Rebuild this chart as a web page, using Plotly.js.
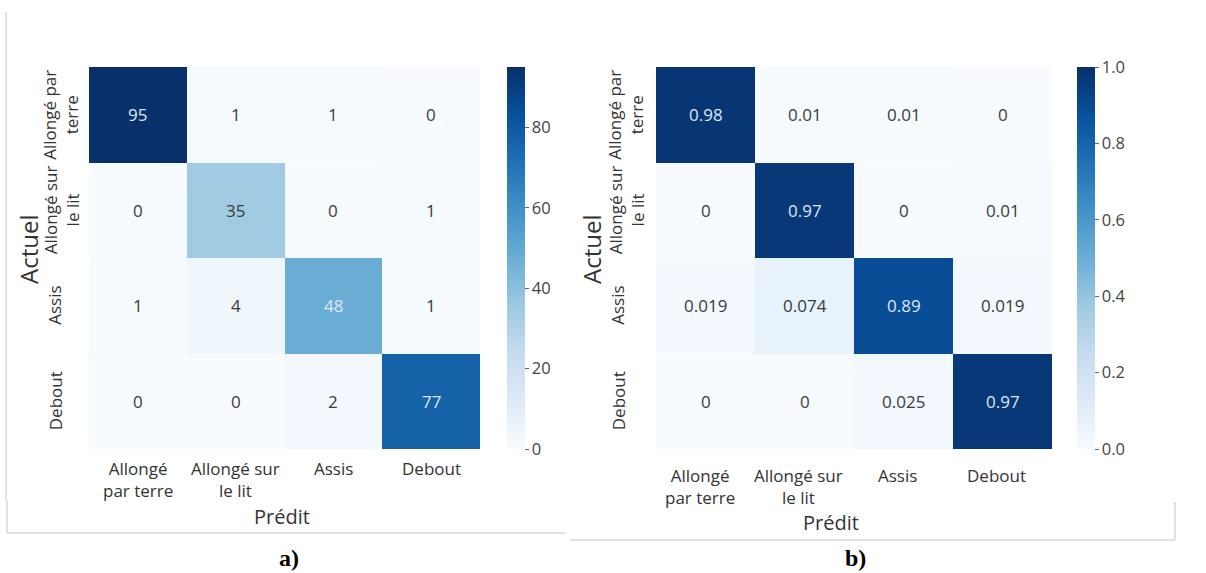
<!DOCTYPE html>
<html>
<head>
<meta charset="utf-8">
<script src="https://cdn.plot.ly/plotly-3.0.1.min.js"></script>
<style>html,body{margin:0;padding:0;background:#fff;}#chart{width:1206px;height:573px;}</style>
</head>
<body>
<div id="chart"></div>
<script>
// ---- data ----
const classIdx = [0, 1, 2, 3];
const xTickLabels = ['Allongé<br>par terre', 'Allongé sur<br>le lit', 'Assis', 'Debout'];
const yTickLabels = ['Allongé par<br>terre', 'Allongé sur<br>le lit', 'Assis', 'Debout'];
const countsA = [
  [95, 1, 1, 0],
  [0, 35, 0, 1],
  [1, 4, 48, 1],
  [0, 0, 2, 77]
];
const ratesB = [
  [0.98, 0.01, 0.01, 0],
  [0, 0.97, 0, 0.01],
  [0.019, 0.074, 0.89, 0.019],
  [0, 0, 0.025, 0.97]
];
const cbTicksA = [0, 20, 40, 60, 80];
const cbTicksB = [0, 0.2, 0.4, 0.6, 0.8, 1.0];
const cbTickTextB = ['0.0', '0.2', '0.4', '0.6', '0.8', '1.0'];
const xTitle = 'Prédit';
const yTitle = 'Actuel';
const panelLabels = ['a)', 'b)'];

// ---- helpers ----
const W = 1206, H = 573;
const px = x => x / W;
const py = y => 1 - y / H;
const FONT = '"Open Sans", "Noto Sans", sans-serif';

const blues = [
  [0.0, '#f7fbff'], [0.125, '#deebf7'], [0.25, '#c6dbef'], [0.375, '#9ecae1'],
  [0.5, '#6baed6'], [0.625, '#4292c6'], [0.75, '#2171b5'], [0.875, '#08519c'], [1.0, '#08306b']
];

const hmTop = 67, hmBottom = 449;
const panels = [
  {z: countsA, zmax: 95, left: 89, right: 480, cbx: 507, xa: 'x', ya: 'y', ticks: cbTicksA, ticktext: cbTicksA.map(String),
   ylabX2: 61, ylabX1: 55, xlabTop: 455, xlabShift: 0, titleX: 282, titleY: 516, actX: 28, actY: 249, panelX: 289},
  {z: ratesB, zmax: 1, left: 656, right: 1052, cbx: 1077, xa: 'x2', ya: 'y2', ticks: cbTicksB, ticktext: cbTickTextB,
   ylabX2: 626, ylabX1: 618, xlabTop: 462, xlabShift: -6, titleX: 831, titleY: 522, actX: 591, actY: 250, panelX: 855}
];

const data = [];
const annotations = [];
const layout = {
  width: W, height: H,
  margin: {l: 0, r: 0, t: 0, b: 0},
  paper_bgcolor: '#ffffff', plot_bgcolor: '#ffffff',
  showlegend: false,
  font: {family: FONT, color: '#333'},
  annotations: annotations,
  shapes: []
};

panels.forEach((p, k) => {
  const sfx = k === 0 ? '' : '2';
  data.push({
    type: 'heatmap',
    x: classIdx, y: classIdx, z: p.z,
    xaxis: p.xa, yaxis: p.ya,
    zmin: 0, zmax: p.zmax,
    colorscale: blues,
    hoverinfo: 'skip',
    xgap: 0, ygap: 0,
    colorbar: {
      x: px(p.cbx), xanchor: 'left', xpad: 0, ypad: 0,
      y: py((hmTop + hmBottom) / 2), yanchor: 'middle',
      len: (hmBottom - hmTop) / H, lenmode: 'fraction',
      thickness: 18, thicknessmode: 'pixels',
      outlinewidth: 0,
      ticks: 'outside', ticklen: 4, tickwidth: 1, tickcolor: '#666',
      tickvals: p.ticks, ticktext: p.ticktext,
      tickfont: {family: FONT, size: 16.5, color: '#444'}
    }
  });
  const axCommon = {showgrid: false, zeroline: false, showticklabels: false, showline: false, ticks: '', fixedrange: true};
  layout['xaxis' + sfx] = Object.assign({domain: [px(p.left), px(p.right)], range: [-0.5, 3.5], anchor: 'y' + sfx}, axCommon);
  layout['yaxis' + sfx] = Object.assign({domain: [py(hmBottom), py(hmTop)], range: [3.5, -0.5], anchor: 'x' + sfx}, axCommon);
  // cell values
  p.z.forEach((row, i) => {
    row.forEach((v, j) => {
      annotations.push({
        x: classIdx[j], y: classIdx[i], xref: p.xa, yref: p.ya, xanchor: 'center', yanchor: 'middle',
        text: String(v), showarrow: false,
        font: {family: FONT, size: 17, color: (v / p.zmax) > 0.5 ? '#dde8f5' : '#3a3a3a'}
      });
    });
  });
  // x tick labels
  xTickLabels.forEach((t, j) => {
    annotations.push({
      x: classIdx[j], xref: p.xa, xanchor: 'center', y: py(p.xlabTop), yref: 'paper', yanchor: 'top',
      xshift: p.xlabShift,
      text: t, showarrow: false, align: 'center',
      font: {family: FONT, size: 17, color: '#333'}
    });
  });
  // y tick labels (rotated)
  yTickLabels.forEach((t, i) => {
    const two = t.indexOf('<br>') >= 0;
    annotations.push({
      x: px(two ? p.ylabX2 : p.ylabX1), xref: 'paper', xanchor: 'center',
      y: classIdx[i], yref: p.ya, yanchor: 'middle',
      text: t, showarrow: false, textangle: -90, align: 'center',
      font: {family: FONT, size: 17, color: '#333'}
    });
  });
  // axis titles
  annotations.push({
    x: px(p.titleX), y: py(p.titleY), xref: 'paper', yref: 'paper', xanchor: 'center', yanchor: 'middle',
    text: xTitle, showarrow: false, font: {family: FONT, size: 20, color: '#333'}
  });
  annotations.push({
    x: px(p.actX), y: py(p.actY), xref: 'paper', yref: 'paper', xanchor: 'center', yanchor: 'middle',
    text: yTitle, showarrow: false, textangle: -90, font: {family: FONT, size: 24, color: '#333'}
  });
  // panel label
  annotations.push({
    x: px(p.panelX), y: py(558), xref: 'paper', yref: 'paper', xanchor: 'center', yanchor: 'middle',
    text: '<b>' + panelLabels[k] + '</b>', showarrow: false,
    font: {family: '"Liberation Serif", "Times New Roman", serif', size: 24, color: '#000'}
  });
});

// thin grey frame lines from the original figure composition
const frame = [
  [6, 12, 6, 500], [7, 500, 7, 533], [7, 533, 565, 533],
  [570, 540, 1175, 540], [1175, 502, 1175, 540]
];
frame.forEach(f => {
  layout.shapes.push({
    type: 'line', xref: 'paper', yref: 'paper',
    x0: px(f[0]), y0: py(f[1]), x1: px(f[2]), y1: py(f[3]),
    line: {color: '#c4c4c4', width: 1}
  });
});

Plotly.newPlot('chart', data, layout, {displayModeBar: false, staticPlot: true});
</script>
</body>
</html>
